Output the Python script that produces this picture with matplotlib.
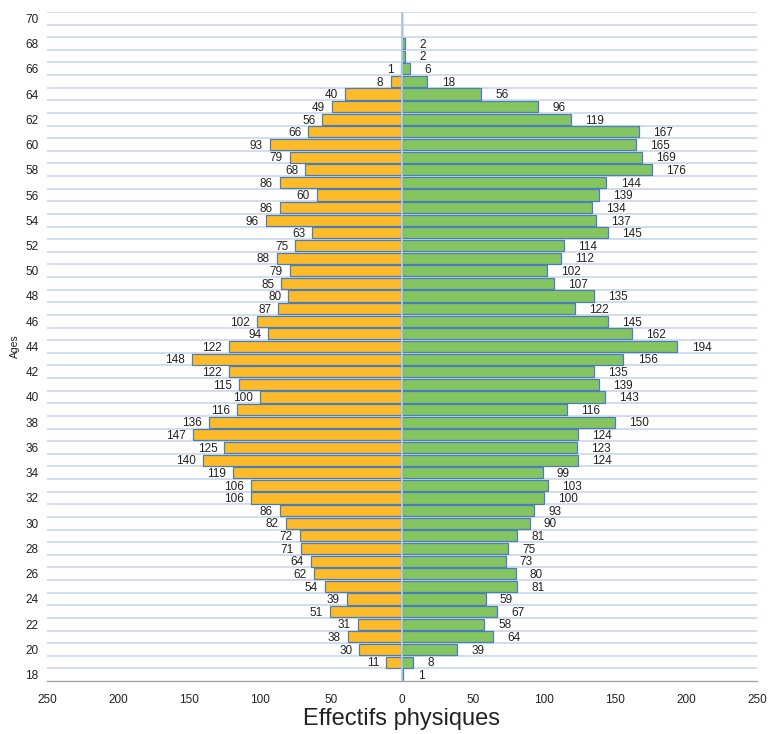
import numpy as np
import matplotlib
matplotlib.use("Agg")
import matplotlib.pyplot as plt
from matplotlib.ticker import FixedLocator

ages = list(range(18, 71))
# age 18 first
left_vals = [0, 11, 30, 38, 31, 51, 39, 54, 62, 64,
             71, 72, 82, 86, 106, 106, 119, 140, 125, 147,
             136, 116, 100, 115, 122, 148, 122, 94, 102, 87,
             80, 85, 79, 88, 75, 63, 96, 86, 60, 86,
             68, 79, 93, 66, 56, 49, 40, 8, 1, 0,
             0, 0, 0]
right_vals = [1, 8, 39, 64, 58, 67, 59, 81, 80, 73,
              75, 81, 90, 93, 100, 103, 99, 124, 123, 124,
              150, 116, 143, 139, 135, 156, 194, 162, 145, 122,
              135, 107, 102, 112, 114, 145, 137, 134, 139, 144,
              176, 169, 165, 167, 119, 96, 56, 18, 6, 2,
              2, 0, 0]
x_ticks = [-250, -200, -150, -100, -50, 0, 50, 100, 150, 200, 250]

ORANGE = "#FDBB2A"
GREEN = "#84C560"
EDGE = "#4A7EBB"
GRID = "#C9D7EC"

narrow = ["Liberation Sans Narrow", "Liberation Sans", "DejaVu Sans"]
label_font = ["Liberation Sans", "DejaVu Sans"]

fig = plt.figure(figsize=(7.7, 7.34), dpi=100)
ax = fig.add_axes([0.061, 0.0722, 0.922, 0.9115])

y = np.array(ages)
left = -np.array(left_vals)
right = np.array(right_vals)

# horizontal gridlines between categories
for yy in np.arange(18.5, 71, 1.0):
    ax.axhline(yy, color=GRID, linewidth=1.2, zorder=0)

ax.barh(y, left, height=0.88, color=ORANGE, edgecolor=EDGE, linewidth=0.9, zorder=2)
ax.barh(y, right, height=0.88, color=GREEN, edgecolor=EDGE, linewidth=0.9, zorder=2)
ax.axvline(0, color="#B7C9E2", linewidth=1.3, zorder=3)

for a, lv, rv in zip(ages, left_vals, right_vals):
    if lv > 0:
        ax.text(-lv - 5, a - 0.1, str(lv), ha="right", va="center", fontsize=8.5,
                color="#222222", family=label_font)
    if rv > 0:
        ax.text(rv + 10, a - 0.1, str(rv), ha="left", va="center", fontsize=8.5,
                color="#222222", family=label_font)

ax.set_xlim(-250, 250)
ax.set_ylim(17.5, 70.5)
ax.xaxis.set_major_locator(FixedLocator(x_ticks))
ax.set_xticklabels([str(abs(t)) for t in x_ticks], family=narrow, fontsize=8.5)
ax.yaxis.set_major_locator(FixedLocator(ages[::2]))
ax.set_yticklabels([str(a) for a in ages[::2]], family=narrow, fontsize=8.5)
ax.tick_params(axis="x", length=0, pad=9, colors="#222222")
ax.tick_params(axis="y", length=0, pad=6, colors="#222222")

for s in ["top", "right", "left"]:
    ax.spines[s].set_visible(False)
ax.spines["bottom"].set_color("#A6A6A6")
ax.spines["bottom"].set_linewidth(1.0)

ax.set_xlabel("Effectifs physiques", family=narrow, fontsize=17, fontweight="medium",
              color="#222222", labelpad=2)
ax.set_ylabel("Ages", family=narrow, fontsize=7.5, color="#222222", labelpad=4)

fig.savefig("out.png", dpi=100)
